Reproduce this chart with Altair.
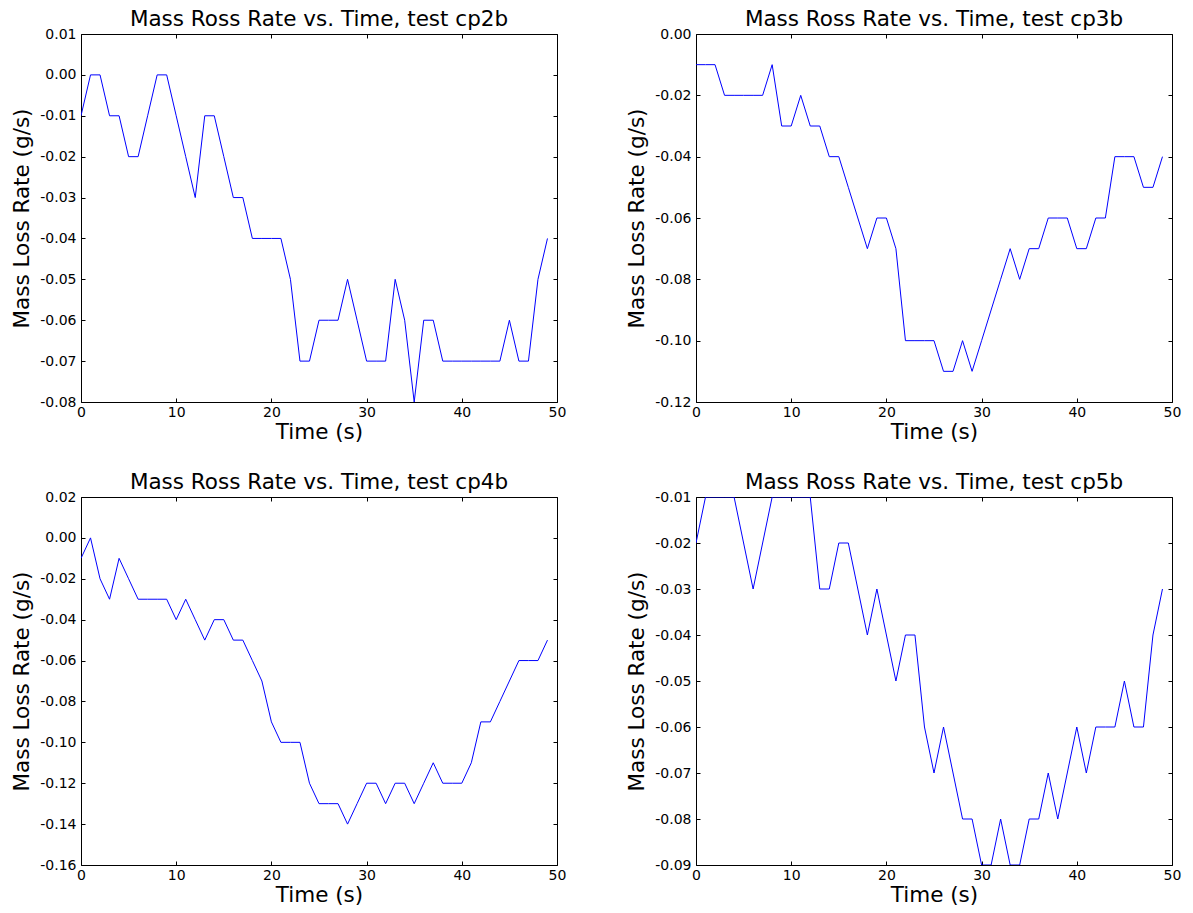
import altair as alt
import pandas as pd

time_s = list(range(50))

cp2b = [-0.01, 0.00, 0.00, -0.01, -0.01, -0.02, -0.02, -0.01, 0.00, 0.00,
        -0.01, -0.02, -0.03, -0.01, -0.01, -0.02, -0.03, -0.03, -0.04, -0.04,
        -0.04, -0.04, -0.05, -0.07, -0.07, -0.06, -0.06, -0.06, -0.05, -0.06,
        -0.07, -0.07, -0.07, -0.05, -0.06, -0.08, -0.06, -0.06, -0.07, -0.07,
        -0.07, -0.07, -0.07, -0.07, -0.07, -0.06, -0.07, -0.07, -0.05, -0.04]

cp3b = [-0.01, -0.01, -0.01, -0.02, -0.02, -0.02, -0.02, -0.02, -0.01, -0.03,
        -0.03, -0.02, -0.03, -0.03, -0.04, -0.04, -0.05, -0.06, -0.07, -0.06,
        -0.06, -0.07, -0.10, -0.10, -0.10, -0.10, -0.11, -0.11, -0.10, -0.11,
        -0.10, -0.09, -0.08, -0.07, -0.08, -0.07, -0.07, -0.06, -0.06, -0.06,
        -0.07, -0.07, -0.06, -0.06, -0.04, -0.04, -0.04, -0.05, -0.05, -0.04]

cp4b = [-0.01, 0.00, -0.02, -0.03, -0.01, -0.02, -0.03, -0.03, -0.03, -0.03,
        -0.04, -0.03, -0.04, -0.05, -0.04, -0.04, -0.05, -0.05, -0.06, -0.07,
        -0.09, -0.10, -0.10, -0.10, -0.12, -0.13, -0.13, -0.13, -0.14, -0.13,
        -0.12, -0.12, -0.13, -0.12, -0.12, -0.13, -0.12, -0.11, -0.12, -0.12,
        -0.12, -0.11, -0.09, -0.09, -0.08, -0.07, -0.06, -0.06, -0.06, -0.05]

cp5b = [-0.02, -0.01, -0.01, -0.01, -0.01, -0.02, -0.03, -0.02, -0.01, -0.01,
        -0.01, -0.01, -0.01, -0.03, -0.03, -0.02, -0.02, -0.03, -0.04, -0.03,
        -0.04, -0.05, -0.04, -0.04, -0.06, -0.07, -0.06, -0.07, -0.08, -0.08,
        -0.09, -0.09, -0.08, -0.09, -0.09, -0.08, -0.08, -0.07, -0.08, -0.07,
        -0.06, -0.07, -0.06, -0.06, -0.06, -0.05, -0.06, -0.06, -0.04, -0.03]

x_ticks = [0, 10, 20, 30, 40, 50]
y_ticks_cp2b = [0.01, 0.00, -0.01, -0.02, -0.03, -0.04, -0.05, -0.06, -0.07, -0.08]
y_ticks_cp3b = [0.00, -0.02, -0.04, -0.06, -0.08, -0.10, -0.12]
y_ticks_cp4b = [0.02, 0.00, -0.02, -0.04, -0.06, -0.08, -0.10, -0.12, -0.14, -0.16]
y_ticks_cp5b = [-0.01, -0.02, -0.03, -0.04, -0.05, -0.06, -0.07, -0.08, -0.09]

titles = ["Mass Ross Rate vs. Time, test cp2b", "Mass Ross Rate vs. Time, test cp3b",
          "Mass Ross Rate vs. Time, test cp4b", "Mass Ross Rate vs. Time, test cp5b"]

W, H = 476, 368
TICK = 4
label_expr = "replace(format(datum.value, '.2f'), '\u2212', '-')"


def panel(values, title, yticks):
    df = pd.DataFrame({"t": time_s, "v": values})
    base = alt.Chart(df)
    xs = alt.Scale(domain=[x_ticks[0], x_ticks[-1]], nice=False, zero=False)
    ys = alt.Scale(domain=[min(yticks), max(yticks)], nice=False, zero=False)
    main = base.mark_line(color="#0000ff", strokeWidth=1, clip=True).encode(
        x=alt.X("t:Q", scale=xs, axis=alt.Axis(
            orient="bottom", title="Time (s)", values=x_ticks, ticks=False,
            domain=False, grid=False, labelPadding=3, titlePadding=2,
            labelFlush=False, labelOverlap=False)),
        y=alt.Y("v:Q", scale=ys, axis=alt.Axis(
            orient="left", title="Mass Loss Rate (g/s)", values=yticks, ticks=False,
            domain=False, grid=False, labelPadding=5, titlePadding=6,
            labelExpr=label_expr, labelFlush=False, labelOverlap=False)),
    )
    tick_bl = base.mark_line(opacity=0).encode(
        x=alt.X("t:Q", scale=xs, axis=alt.Axis(
            orient="bottom", title=None, values=x_ticks, labels=False, domain=False,
            grid=False, ticks=True, tickSize=TICK, offset=-TICK)),
        y=alt.Y("v:Q", scale=ys, axis=alt.Axis(
            orient="left", title=None, values=yticks, labels=False, domain=False,
            grid=False, ticks=True, tickSize=TICK, offset=-TICK)),
    )
    tick_tr = base.mark_line(opacity=0).encode(
        x=alt.X("t:Q", scale=xs, axis=alt.Axis(
            orient="top", title=None, values=x_ticks, labels=False, domain=False,
            grid=False, ticks=True, tickSize=TICK, offset=-TICK)),
        y=alt.Y("v:Q", scale=ys, axis=alt.Axis(
            orient="right", title=None, values=yticks, labels=False, domain=False,
            grid=False, ticks=True, tickSize=TICK, offset=-TICK)),
    )
    return alt.layer(main, tick_bl, tick_tr).resolve_axis(
        x="independent", y="independent"
    ).properties(width=W, height=H, title=alt.TitleParams(title, offset=-3))


p1 = panel(cp2b, titles[0], y_ticks_cp2b)
p2 = panel(cp3b, titles[1], y_ticks_cp3b)
p3 = panel(cp4b, titles[2], y_ticks_cp4b)
p4 = panel(cp5b, titles[3], y_ticks_cp5b)

chart = alt.concat(
    p1, p2, p3, p4, columns=2,
    spacing=alt.RowColnumber(row=95, column=139), bounds="flush"
).properties(
    padding={"left": 11, "top": 8, "right": 5, "bottom": 5},
    background="white",
).configure(font="DejaVu Sans").configure_view(
    stroke="black", strokeWidth=1
).configure_title(
    fontSize=21.5, fontWeight="normal", color="black", font="DejaVu Sans", anchor="middle"
).configure_axis(
    labelFontSize=14, titleFontSize=21.5, titleFontWeight="normal",
    labelColor="black", titleColor="black", tickColor="black", tickWidth=1,
    labelFont="DejaVu Sans", titleFont="DejaVu Sans"
)

chart.save("out.html", embed_options={"renderer": "svg", "actions": False})
